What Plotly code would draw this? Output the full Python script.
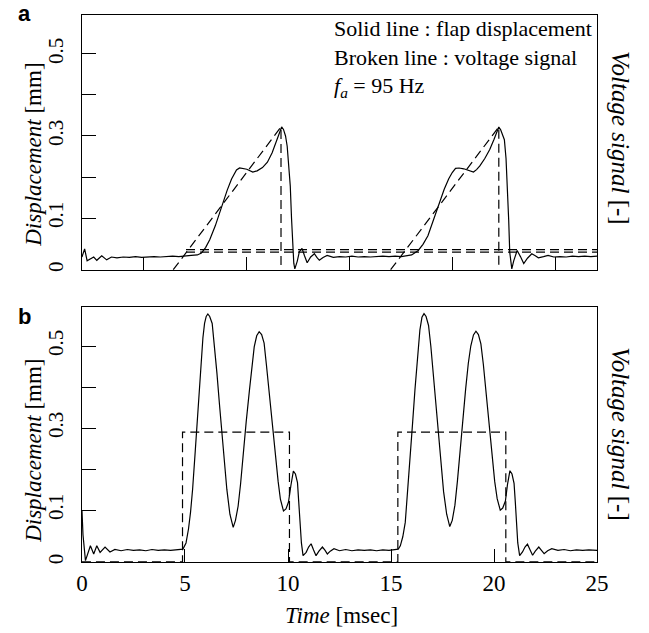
import plotly.graph_objects as go

W, H = 649, 633

# ---------------- data ----------------
# Panel a: flap displacement (solid) [mm]
t_a = [0.00, 0.13, 0.25, 0.41, 0.57, 0.72, 0.96, 1.20, 1.43, 1.7, 2.0, 2.3, 2.6, 2.9, 3.2, 3.5, 3.8, 4.1,
       4.4, 4.7, 5.0, 5.3, 5.6, 5.8, 6.0, 6.2, 6.47, 6.7, 6.87, 7.05, 7.26, 7.5, 7.65, 7.81, 8.0, 8.29, 8.5,
       8.76, 9.0, 9.23, 9.45, 9.6, 9.69, 9.78, 9.88, 9.96, 10.05, 10.11, 10.17, 10.22, 10.28, 10.33, 10.45,
       10.55, 10.68, 10.8, 10.93, 11.1, 11.28, 11.4, 11.52, 11.7, 11.9, 12.2, 12.5, 12.8, 13.1, 13.4, 13.7,
       14.0, 14.3, 14.6, 14.9, 15.2, 15.5, 15.8, 16.0, 16.32, 16.55, 16.79, 17.0, 17.26, 17.42, 17.58, 17.8,
       17.97, 18.13, 18.3, 18.53, 18.75, 19.0, 19.15, 19.31, 19.55, 19.79, 20.0, 20.15, 20.23, 20.32, 20.42,
       20.5, 20.58, 20.65, 20.71, 20.76, 20.86, 20.95, 21.12, 21.28, 21.44, 21.62, 21.83, 22.0, 22.15, 22.4,
       22.62, 22.9, 23.2, 23.5, 23.8, 24.1, 24.4, 24.7, 25.0]
disp_a = [0.005, 0.025, -0.004, 0.001, 0.005, -0.003, 0.008, -0.002, 0.005, 0.003, 0.005, 0.004, 0.006, 0.004,
          0.005, 0.006, 0.005, 0.006, 0.007, 0.006, 0.008, 0.009, 0.010, 0.015, 0.028, 0.047, 0.081, 0.116,
          0.142, 0.168, 0.195, 0.217, 0.222, 0.220, 0.219, 0.212, 0.215, 0.223, 0.236, 0.259, 0.290, 0.314,
          0.322, 0.316, 0.300, 0.275, 0.225, 0.178, 0.100, 0.030, -0.010, -0.024, -0.005, 0.018, 0.026, 0.008,
          -0.009, 0.005, 0.013, 0.004, -0.003, 0.004, 0.009, 0.004, 0.006, 0.005, 0.007, 0.005, 0.006, 0.005,
          0.006, 0.007, 0.006, 0.007, 0.006, 0.008, 0.010, 0.021, 0.036, 0.057, 0.088, 0.122, 0.147, 0.170,
          0.196, 0.211, 0.221, 0.222, 0.220, 0.216, 0.212, 0.218, 0.227, 0.245, 0.267, 0.292, 0.315, 0.322,
          0.315, 0.302, 0.291, 0.245, 0.178, 0.095, 0.017, -0.024, -0.005, 0.021, 0.006, -0.011, 0.002, 0.013,
          0.008, 0.003, 0.006, 0.009, 0.005, 0.006, 0.005, 0.007, 0.006, 0.007, 0.006, 0.007]

# Panel a: voltage signal (broken) - sawtooth ramps
t_va = [4.43, 9.66, 9.66, None, 14.98, 20.23, 20.23]
v_a = [-0.026, 0.322, -0.026, None, -0.026, 0.322, -0.026]
# Panel a: two horizontal broken reference lines
t_ref = [5.05, 25.0]
ref_hi = [0.023, 0.023]
ref_lo = [0.017, 0.017]

# Panel b: flap displacement (solid) [mm]
t_b = [0.00, 0.05, 0.17, 0.30, 0.41, 0.57, 0.72, 0.88, 1.12, 1.36, 1.6, 1.9, 2.2, 2.5, 2.8, 3.1, 3.4, 3.7,
       4.0, 4.3, 4.6, 4.9, 5.05, 5.17, 5.27, 5.37, 5.5, 5.61, 5.7, 5.77, 5.87, 5.95, 6.03, 6.11, 6.2, 6.32,
       6.43, 6.55, 6.67, 6.79, 6.9, 7.03, 7.18, 7.34, 7.45, 7.58, 7.7, 7.81, 7.97, 8.13, 8.25, 8.36, 8.48,
       8.6, 8.72, 8.84, 8.95, 9.07, 9.23, 9.39, 9.52, 9.63, 9.78, 9.9, 10.02, 10.14, 10.26, 10.36, 10.46,
       10.52, 10.57, 10.65, 10.73, 10.88, 11.0, 11.12, 11.24, 11.36, 11.5, 11.67, 11.8, 11.91, 12.05, 12.23,
       12.5, 12.8, 13.1, 13.4, 13.7, 14.0, 14.3, 14.6, 14.9, 15.2, 15.35, 15.45, 15.57, 15.69, 15.8, 15.93,
       16.05, 16.16, 16.28, 16.4, 16.5, 16.6, 16.7, 16.82, 16.93, 17.05, 17.17, 17.3, 17.42, 17.55, 17.7,
       17.85, 17.97, 18.1, 18.22, 18.33, 18.48, 18.62, 18.75, 18.87, 19.0, 19.12, 19.24, 19.36, 19.48, 19.6,
       19.75, 19.9, 20.03, 20.15, 20.3, 20.42, 20.55, 20.65, 20.77, 20.87, 20.97, 21.03, 21.08, 21.15, 21.24,
       21.38, 21.5, 21.62, 21.75, 21.87, 22.0, 22.17, 22.3, 22.43, 22.6, 22.8, 23.1, 23.4, 23.7, 24.0, 24.3,
       24.6, 25.0]
disp_b = [0.100, 0.040, -0.023, 0.000, 0.013, -0.007, 0.013, -0.003, 0.010, -0.002, 0.004, 0.001, 0.004,
          0.002, 0.003, 0.001, 0.004, 0.002, 0.003, 0.002, 0.003, 0.005, 0.020, 0.054, 0.095, 0.151, 0.245,
          0.329, 0.400, 0.458, 0.520, 0.555, 0.572, 0.578, 0.572, 0.555, 0.500, 0.434, 0.360, 0.288, 0.220,
          0.151, 0.090, 0.058, 0.075, 0.110, 0.165, 0.232, 0.315, 0.393, 0.455, 0.498, 0.525, 0.535, 0.528,
          0.507, 0.455, 0.393, 0.310, 0.232, 0.170, 0.127, 0.098, 0.103, 0.119, 0.160, 0.195, 0.188, 0.167,
          0.120, 0.070, 0.020, -0.011, -0.003, 0.010, 0.018, 0.003, -0.011, 0.000, 0.010, 0.002, -0.007,
          0.000, 0.006, 0.001, 0.004, 0.001, 0.003, 0.002, 0.003, 0.001, 0.003, 0.002, 0.003, 0.005, 0.013,
          0.035, 0.070, 0.140, 0.232, 0.315, 0.393, 0.475, 0.539, 0.570, 0.579, 0.572, 0.550, 0.500, 0.430,
          0.355, 0.280, 0.210, 0.145, 0.090, 0.060, 0.075, 0.112, 0.170, 0.235, 0.318, 0.395, 0.458, 0.500,
          0.527, 0.536, 0.528, 0.505, 0.455, 0.390, 0.305, 0.230, 0.170, 0.128, 0.100, 0.105, 0.122, 0.162,
          0.196, 0.188, 0.165, 0.120, 0.070, 0.020, -0.011, -0.002, 0.010, 0.017, 0.003, -0.010, 0.000, 0.010,
          0.002, -0.006, 0.001, 0.006, 0.002, 0.004, 0.001, 0.003, 0.002, 0.003, 0.002]

# Panel b: voltage signal (broken) - square pulses
t_vb = [0.0, 4.88, 4.88, 10.07, 10.07, 15.33, 15.33, 20.57, 20.57, 25.0]
v_b = [-0.026, -0.026, 0.29, 0.29, -0.026, -0.026, 0.29, 0.29, -0.026, -0.026]

# axes
x_range = [0, 25]
y_range = [-0.027, 0.595]
x_ticks_b = [0, 5, 10, 15, 20, 25]
x_ticks_a = [3, 8, 13, 18, 23]
y_tickvals = [-0.0265, 0.1, 0.3, 0.5]
y_ticktext = ["0", "0.1", "0.3", "0.5"]
y_minor_ticks = [0.2, 0.4]
right_ticks_a = [0.25, 0.5, 0.75, 1.0]
right_ticks_b = [0.1, 0.31, 0.555, 0.825, 1.0]

# ---------------- layout helpers ----------------
def px(x):
    return x / W

def py(y):
    return 1 - y / H

XD = [px(78), px(607)]
YD_A = [py(271), py(15)]
YD_B = [py(564), py(308)]

SERIF = "Liberation Serif, Times New Roman, serif"
LINE = dict(color="black", width=1.2)
DASH = dict(color="black", width=1.2, dash="9px,5px")

fig = go.Figure()
fig.add_trace(go.Scatter(x=t_a, y=disp_a, mode="lines", line=LINE, xaxis="x", yaxis="y", showlegend=False))
fig.add_trace(go.Scatter(x=t_va, y=v_a, mode="lines", line=DASH, xaxis="x", yaxis="y", showlegend=False))
fig.add_trace(go.Scatter(x=t_ref, y=ref_hi, mode="lines", line=DASH, xaxis="x", yaxis="y", showlegend=False))
fig.add_trace(go.Scatter(x=t_ref, y=ref_lo, mode="lines", line=DASH, xaxis="x", yaxis="y", showlegend=False))
fig.add_trace(go.Scatter(x=t_b, y=disp_b, mode="lines", line=LINE, xaxis="x2", yaxis="y2", showlegend=False))
fig.add_trace(go.Scatter(x=t_vb, y=v_b, mode="lines", line=DASH, xaxis="x2", yaxis="y2", showlegend=False))

ytickfont = dict(family=SERIF, size=21, color="black")
xtickfont = dict(family=SERIF, size=23, color="black")
common_x = dict(domain=XD, range=x_range, showgrid=False, zeroline=False, showline=True, mirror=True,
                linecolor="black", linewidth=1, ticks="inside", ticklen=13, tickwidth=1, tickcolor="black",
                tickfont=xtickfont)
common_y = dict(range=y_range, showgrid=False, zeroline=False, showline=True, mirror=True, linecolor="black",
                linewidth=1, ticks="inside", ticklen=14, tickwidth=1, tickcolor="black", tickvals=y_tickvals,
                ticktext=y_ticktext, tickangle=-90, tickfont=ytickfont, ticklabelstandoff=10,
                minor=dict(tickvals=y_minor_ticks, ticks="inside", ticklen=14, tickwidth=1, tickcolor="black",
                           showgrid=False))
right_y = dict(range=[0, 1], showgrid=False, zeroline=False, showline=False, side="right", ticks="inside",
               ticklen=14, tickwidth=1, tickcolor="black", showticklabels=False)

fig.update_layout(
    width=W, height=H, margin=dict(l=0, r=0, t=0, b=0),
    paper_bgcolor="white", plot_bgcolor="white", showlegend=False,
    xaxis=dict(common_x, anchor="y", tickvals=x_ticks_a, showticklabels=False),
    yaxis=dict(common_y, domain=YD_A, anchor="x"),
    xaxis2=dict(common_x, anchor="y2", tickvals=x_ticks_b, ticktext=[str(v) for v in x_ticks_b]),
    yaxis2=dict(common_y, domain=YD_B, anchor="x2"),
    yaxis3=dict(right_y, overlaying="y", anchor="x", tickvals=right_ticks_a),
    yaxis4=dict(right_y, overlaying="y2", anchor="x2", tickvals=right_ticks_b),
)

ann = []
def add(text, x, y, size=21, angle=0, xa="center", ya="middle", family=SERIF, align="center"):
    ann.append(dict(text=text, x=px(x), y=py(y), xref="paper", yref="paper", showarrow=False,
                    textangle=angle, xanchor=xa, yanchor=ya, align=align,
                    font=dict(family=family, size=size, color="black")))

add("<b>a</b>", 19, 14, size=22, family="Liberation Sans, Arial, sans-serif")
add("<b>b</b>", 19, 318, size=22, family="Liberation Sans, Arial, sans-serif")
add("<i>Displacement</i> [mm]", 28, 155, size=23, angle=-90)
add("<i>Displacement</i> [mm]", 28, 452, size=23, angle=-90)
add("<i>Voltage signal</i> [-]", 631, 139, size=25, angle=90)
add("<i>Voltage signal</i> [-]", 631, 436, size=25, angle=90)
add("<i>Time</i> [msec]", 345, 617, size=23)
add("Solid line : flap displacement<br>Broken line : voltage signal<br><i>f</i><sub><i>a</i></sub> = 95 Hz",
    335, 14, size=22, xa="left", ya="top", align="left")
fig.update_layout(annotations=ann)

fig.write_html("out.html")
